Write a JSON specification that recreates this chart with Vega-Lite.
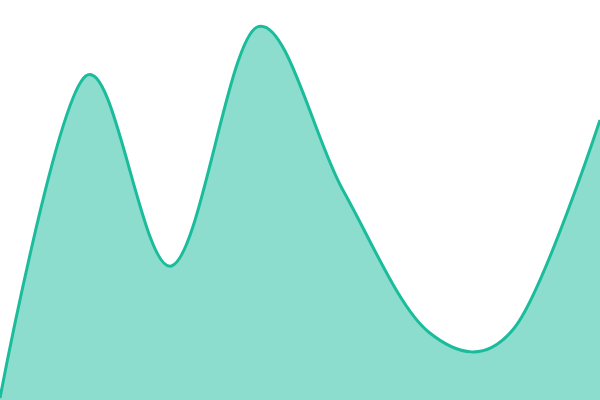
{
  "$schema": "https://vega.github.io/schema/vega-lite/v6.json",
  "width": 600,
  "height": 400,
  "padding": 0,
  "autosize": {"type": "none"},
  "data": {
    "values": [
      {"x": 0, "y": 2},
      {"x": 1, "y": 324},
      {"x": 2, "y": 134},
      {"x": 3, "y": 373},
      {"x": 4, "y": 210},
      {"x": 5, "y": 68},
      {"x": 6, "y": 72},
      {"x": 7, "y": 280}
    ]
  },
  "encoding": {
    "x": {"field": "x", "type": "quantitative", "axis": null, "scale": {"domain": [0, 7], "nice": false}},
    "y": {"field": "y", "type": "quantitative", "axis": null, "scale": {"domain": [0, 400], "nice": false}}
  },
  "layer": [
    {"mark": {"type": "area", "interpolate": "cardinal", "color": "#1abc9c", "fillOpacity": 0.5}},
    {"mark": {"type": "line", "interpolate": "cardinal", "color": "#1abc9c", "strokeWidth": 3}}
  ],
  "config": {"view": {"stroke": null}}
}
